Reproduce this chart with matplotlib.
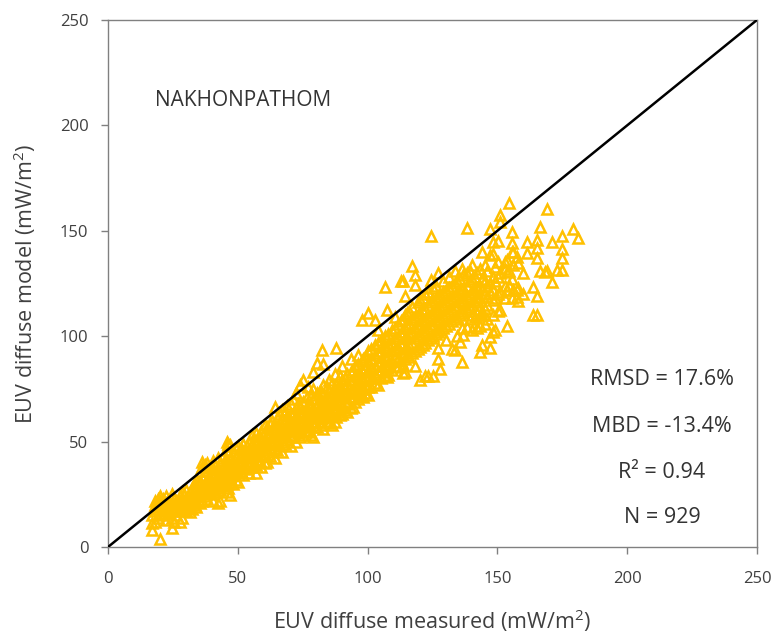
import matplotlib
matplotlib.use("Agg")
import matplotlib.pyplot as plt

plt.rcParams['font.family'] = ['Open Sans', 'DejaVu Sans']
plt.rcParams['mathtext.default'] = 'regular'

low_range = {
    16.8: [8, 11.5, 15], 18.1: [12, 17, 20, 22], 19.4: [14, 18, 21, 23],
    20.0: [4, 16, 19, 22, 24], 21.2: [15, 18, 20, 23], 22.3: [13, 17, 21, 24],
    23.1: [16, 19, 22], 24.5: [9, 14, 18, 21, 25], 25.3: [12, 17, 20, 23],
    26.2: [15, 19, 22], 27.6: [12, 18, 21, 24], 28.4: [14, 17, 20, 23, 26],
    29.3: [18, 21, 25], 30.1: [17, 20, 23, 27], 31.6: [16.7, 19, 22, 26],
    32.2: [18, 21, 24, 28], 33.4: [20, 23, 27, 30], 34.1: [19, 22, 25, 29, 32],
    35.3: [21, 24, 27, 31, 36], 36.1: [22, 26, 29, 33, 38, 40.5],
    37.4: [24, 27, 30, 34, 39], 38.2: [23, 26, 29, 32, 36, 40],
    39.5: [25, 28, 31, 35, 38], 40.3: [22, 27, 30, 33, 37, 41],
    41.1: [26, 29, 32, 35, 39], 42.5: [20.7, 28, 31, 34, 37, 42],
    43.2: [22, 27, 30, 33, 36, 40], 44.4: [29, 32, 35, 38, 43],
    45.7: [26, 30, 34, 37, 41, 46, 50], 46.3: [28, 33, 36, 39, 44, 49],
    47.0: [24.7, 31, 35, 38, 42, 48.5], 48.2: [30, 34, 37, 40, 45],
    49.4: [32, 36, 39, 43, 47], 50.2: [31, 35, 38, 41, 44, 48],
}

mid_range = {
    51.3: [36, 40, 43, 47], 52.1: [34, 38, 42, 45, 49], 53.4: [37, 41, 44, 48],
    54.2: [35, 39, 43, 46, 50], 55.5: [38, 42, 45, 49, 53], 56.3: [40, 44, 47, 51],
    57.2: [35, 39, 43, 46, 50, 54], 58.4: [41, 45, 48, 52],
    59.1: [38, 43, 47, 50, 55], 60.3: [40, 44, 48, 51, 54, 58],
    61.1: [40.5, 46, 49, 53, 57], 62.4: [43, 47, 50, 54, 59],
    63.2: [45, 49, 52, 56, 60], 64.3: [42, 47, 51, 55, 58, 66.6],
    65.1: [46, 50, 53, 57, 61], 66.4: [48, 52, 55, 59, 63],
    67.2: [45, 50, 54, 57, 61, 65], 68.3: [49, 53, 56, 60, 64],
    69.1: [51, 55, 58, 62, 67], 70.4: [48, 53, 57, 60, 63, 68],
    71.2: [52, 56, 59, 63, 70], 72.3: [50, 55, 58, 62, 66, 73],
    73.1: [54, 57, 61, 64, 68], 74.0: [52, 54.7, 59, 63, 67, 77],
    75.2: [53.1, 57, 60, 64, 69, 79], 76.5: [55.5, 59, 62, 66, 71],
    77.2: [54.7, 58, 61, 65, 68, 76], 78.4: [53.1, 57, 63, 67, 72],
    79.1: [52.3, 59, 62, 66, 70, 75, 83], 80.4: [57.1, 61, 64, 68, 73, 87.1],
    81.7: [59.4, 63, 67, 70, 74], 82.3: [58, 62, 66, 69, 73, 93.5],
    83.0: [56, 61, 65, 68, 72, 77, 87], 84.2: [60, 64, 67, 71, 76],
    85.1: [59, 63, 66, 70, 74, 79], 86.2: [57.9, 62, 66, 69, 73, 78],
    87.4: [59.4, 64, 68, 72, 75, 82], 88.0: [61.8, 66, 70, 73, 77, 94.2],
    89.4: [62.6, 65, 69, 72, 76, 81], 90.2: [63, 67, 71, 75, 79, 86],
    91.3: [65, 69, 72, 76, 80], 92.1: [64, 68, 73, 77, 82],
    93.8: [66, 70.5, 74, 78, 83, 89], 94.5: [66.5, 71, 75, 79, 84],
    95.2: [69, 73, 77, 81, 86], 96.4: [70, 73.5, 78, 82, 87, 91],
    97.7: [72, 76, 80, 84, 88, 107.7], 98.3: [71, 75, 79, 83, 89],
    99.1: [73, 77, 81, 85, 90], 100.3: [72, 76, 80, 84, 88, 93, 110.8],
}

high_range = {
    101.4: [76, 80, 85, 89, 94], 102.8: [77.6, 82, 86, 91, 96, 107.7],
    104.0: [77, 83, 87, 92, 97, 103], 105.2: [80, 84, 88, 93, 98],
    106.7: [81, 83, 86, 90, 95, 100, 123.5], 107.3: [80.8, 85, 89, 94, 99, 112.4],
    108.0: [81.6, 87, 91, 96, 101], 109.4: [84, 88, 93, 97, 103],
    110.6: [85.7, 90, 94, 99, 104, 109], 111.8: [85.5, 89, 95, 100, 106],
    112.7: [88, 92, 96, 101, 107, 126.3], 113.8: [82.4, 86.3, 91, 97, 102, 108, 126],
    114.4: [83, 89, 94, 99, 104, 110, 119], 115.2: [91, 95, 100, 105, 111],
    116.1: [90, 96, 101, 106, 112], 117.0: [92, 97, 102, 108, 114, 133.3],
    118.3: [85.9, 93, 99, 104, 109, 124.4, 129], 119.4: [94, 100, 105, 110, 116],
    120.2: [79.2, 95, 101, 106, 111, 117], 121.3: [96, 102, 107, 112, 118],
    122.0: [81, 97, 103, 108, 113, 120], 123.4: [81.1, 98, 104, 109, 115, 121],
    124.3: [99, 105, 110, 116, 126.7, 147.5], 125.3: [81.1, 100, 106, 111, 117, 123],
    126.2: [101, 107, 112, 118, 124], 127.2: [89, 94.2, 102, 108, 113, 119, 129.8],
    127.9: [84.4, 103, 109, 114, 120], 129.1: [104, 110, 115, 121, 126],
    130.2: [98, 105, 111, 116, 122], 131.3: [106, 112, 117, 123, 128],
    132.4: [93.8, 107, 113, 118, 124], 133.7: [93.5, 108, 114, 119, 125, 131],
    134.5: [100, 109, 115, 120, 126], 135.6: [97.4, 110, 116, 121, 127],
    136.2: [87.9, 104, 111, 117, 122, 132], 136.9: [100.6, 112, 118, 123, 129],
    138.2: [104.5, 113, 119, 124, 130, 151.5], 139.3: [108, 114, 120, 126, 131],
    140.1: [103, 110, 115, 121, 127, 134], 141.2: [109, 116, 122, 128],
    142.0: [104, 111, 117, 118.7, 123, 130], 143.3: [92.6, 105, 110, 118, 124, 132],
    144.0: [95.8, 110, 112, 121.9, 127, 140.1], 145.2: [106, 113, 120, 126, 134],
    146.0: [108, 115, 118.7, 124, 131], 147.1: [94.5, 99.8, 120.3, 125.1, 138.5, 150.7],
    148.4: [102.1, 110, 117, 122, 128, 139, 144.9], 149.1: [102.9, 118, 126, 133],
    150.3: [112, 120, 128, 135, 145], 151.0: [112.4, 121, 130, 154.3, 157.5],
    152.9: [118, 124, 132, 135.3], 153.6: [104.8, 122, 130.6, 136],
    154.5: [124.3, 131, 163.1], 155.5: [118, 127, 140, 144, 149.6],
    156.1: [122, 134, 140.1], 157.4: [118.7, 121.9, 137.6], 158.0: [116.8, 122.7, 134.5],
    160.0: [120, 130], 161.5: [139.3, 144.9], 163.8: [110, 123.2],
    165.1: [110, 119.1, 136.9, 141.7, 145.6], 166.4: [131, 152],
    168.3: [130.6], 169.0: [131.1, 160.2], 170.9: [125.9, 144.9],
    173.0: [131.4], 175.0: [131.4, 136.9, 141.2, 147.5], 179.2: [150.7],
    181.2: [146.4],
}

stats_lines = ["RMSD = 17.6%", "MBD = -13.4%", "R\u00b2 = 0.94", "N = 929"]
site_name = "NAKHONPATHOM"
axis_ticks = [0, 50, 100, 150, 200, 250]

measured, model = [], []
for grp in (low_range, mid_range, high_range):
    for xm, ys in grp.items():
        for ym in ys:
            measured.append(xm)
            model.append(ym)

fig = plt.figure(figsize=(7.74, 6.38), dpi=100)
ax = fig.add_axes([0.1395, 0.1426, 0.8385, 0.8261])

ax.plot(measured, model, linestyle='none', marker='^', markersize=6.8,
        markerfacecolor='none', markeredgecolor='#FFC000', markeredgewidth=1.8,
        zorder=2)
ax.plot([0, 250], [0, 250], color='black', linewidth=1.8, zorder=3)

ax.set_xlim(0, 250)
ax.set_ylim(0, 250)
ax.set_xticks(axis_ticks)
ax.set_yticks(axis_ticks)
for s in ax.spines.values():
    s.set_color('#808080')
    s.set_linewidth(1.0)
ax.tick_params(direction='out', length=5, width=1, color='#808080',
               labelsize=12, labelcolor='#404040')
ax.tick_params(axis='x', pad=12)
ax.tick_params(axis='y', pad=9)

ax.set_xlabel("EUV diffuse measured (mW/m$^{2}$)", fontsize=15.5,
              color='#404040', labelpad=15)
ax.set_ylabel("EUV diffuse model (mW/m$^{2}$)", fontsize=15.5,
              color='#404040', labelpad=16)

ax.text(0.0724, 0.848, site_name, transform=ax.transAxes, fontsize=15,
        color='#333333', va='center', ha='left')
for yy, t in zip([0.317, 0.2296, 0.1423, 0.0569], stats_lines):
    ax.text(0.8536, yy, t, transform=ax.transAxes, fontsize=15.5,
            color='#333333', va='center', ha='center')

fig.savefig("out.png", dpi=100)
